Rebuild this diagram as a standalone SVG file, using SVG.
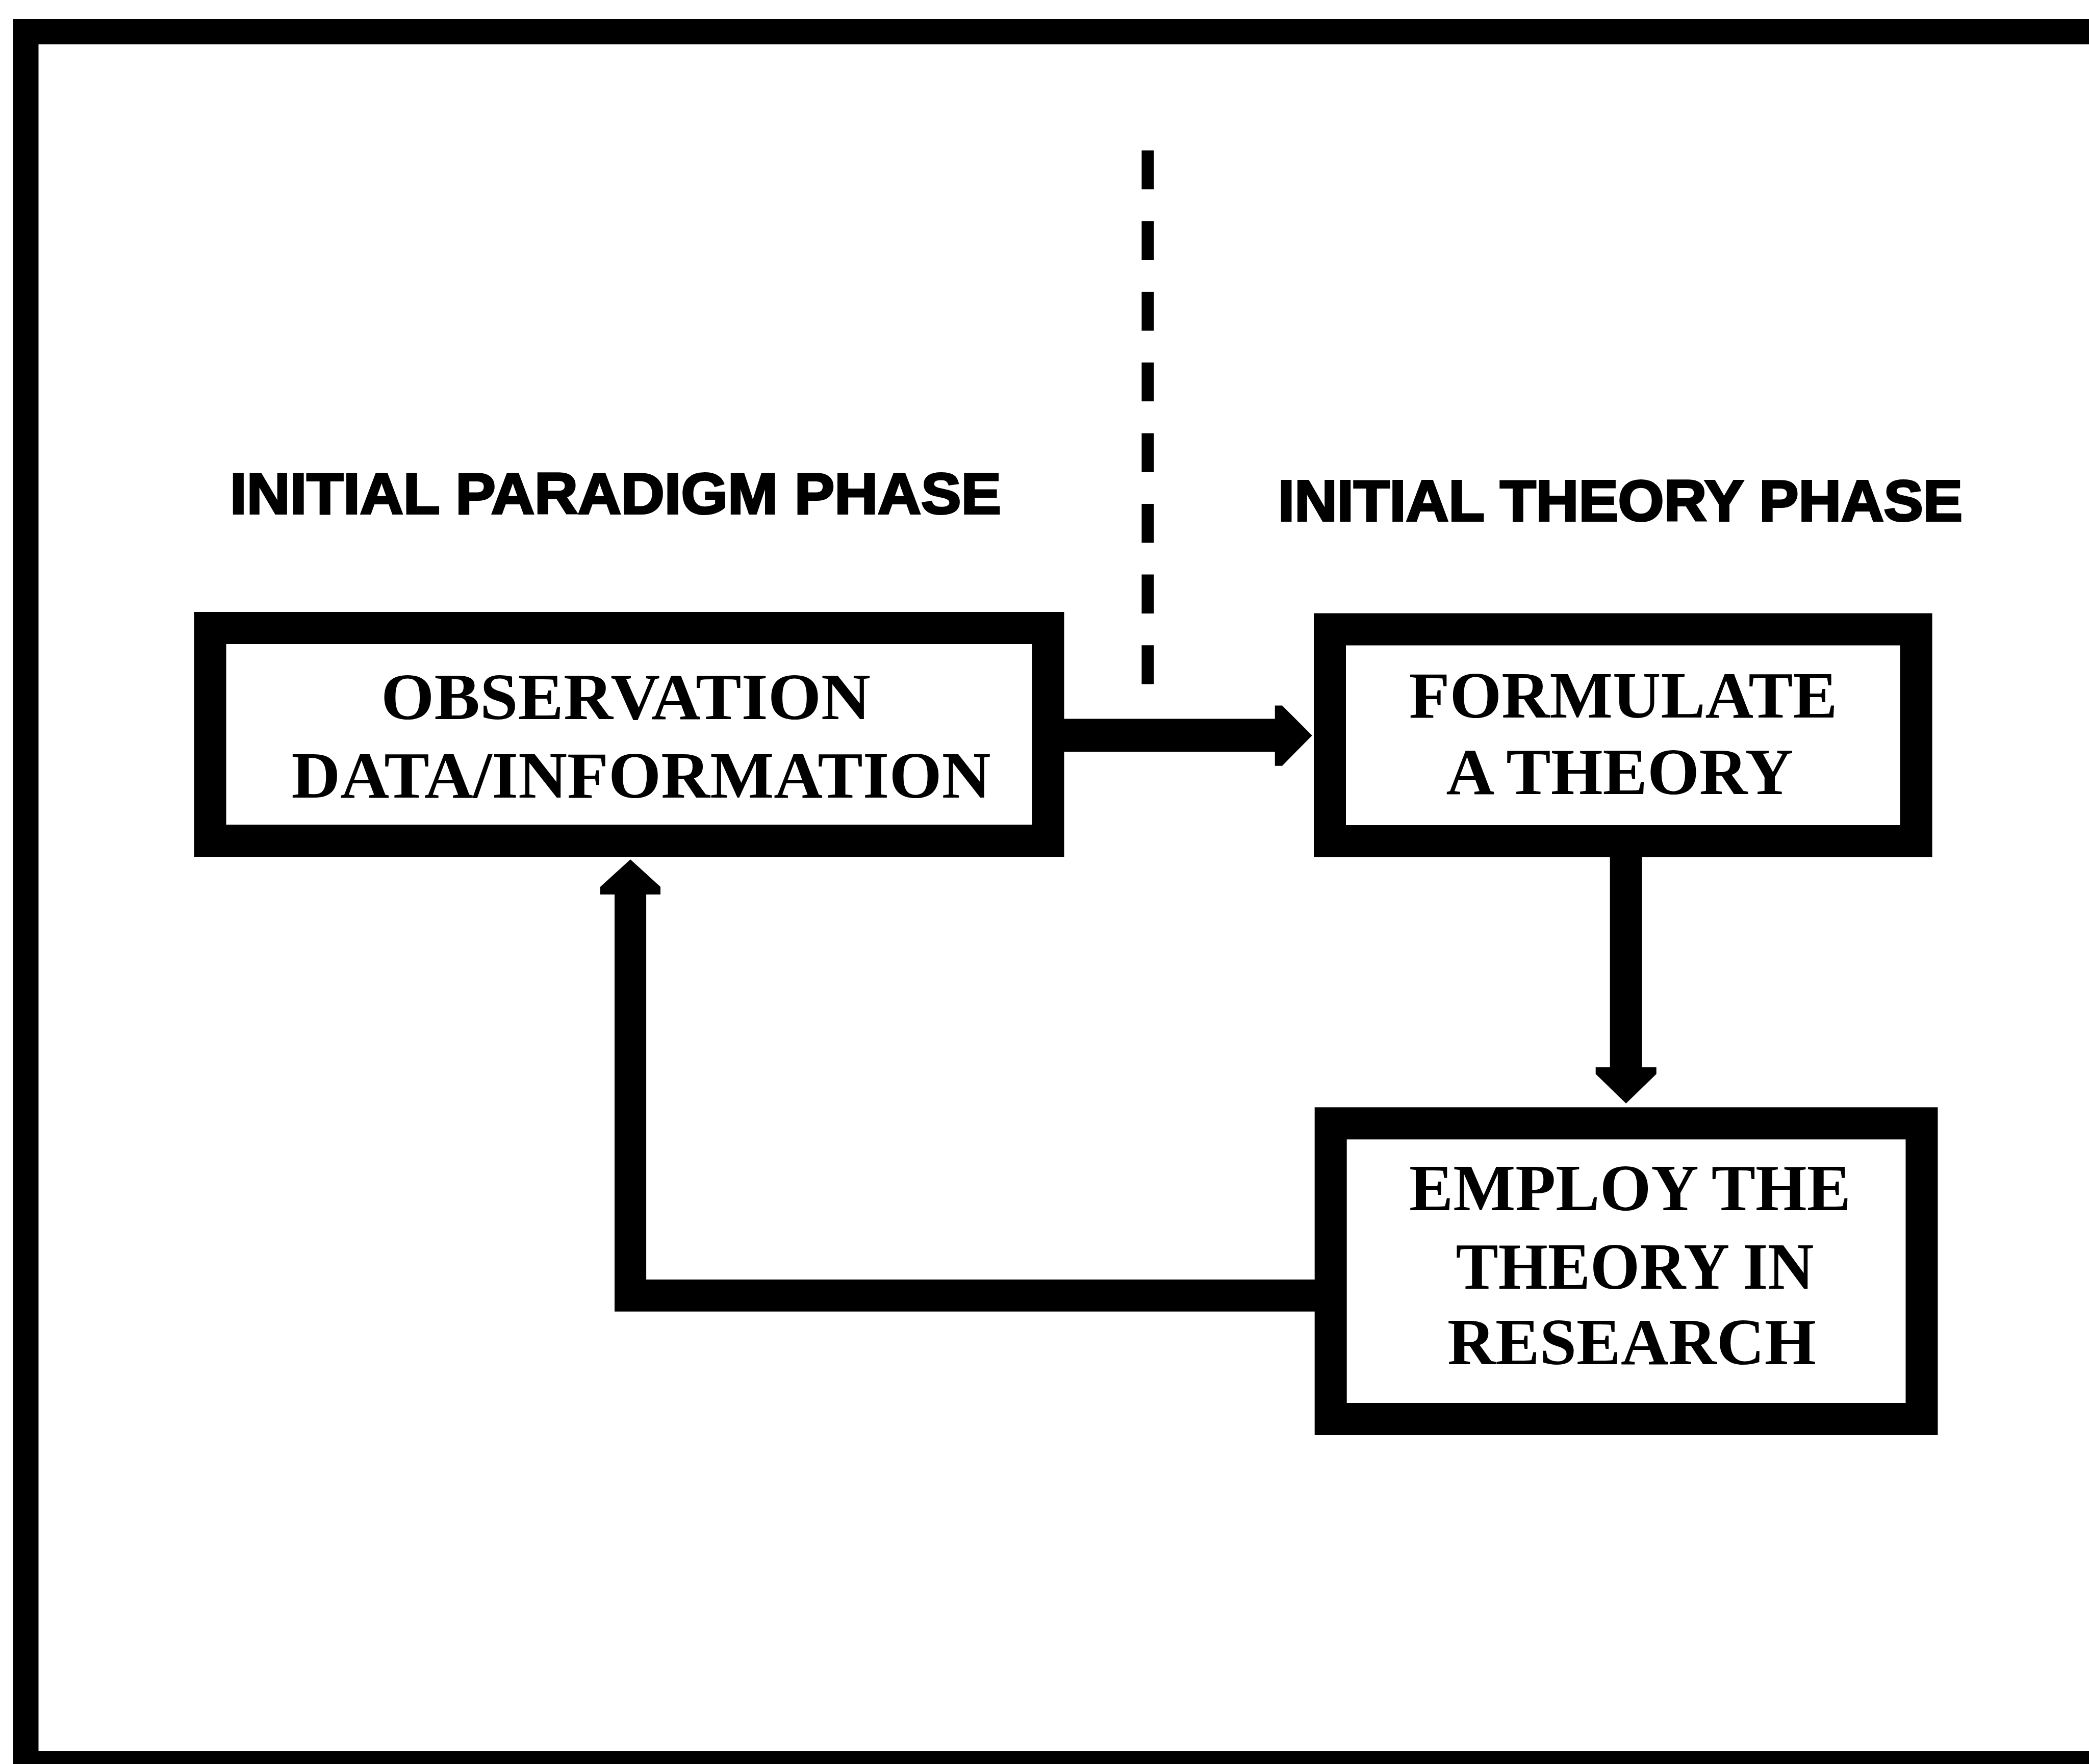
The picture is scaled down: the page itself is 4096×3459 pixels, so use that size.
<svg xmlns="http://www.w3.org/2000/svg" width="4096" height="3459" viewBox="0 0 4096 3459">
  <style>
    .frame { fill: none; stroke: #000; stroke-width: 50; }
    .box { fill: #fff; stroke: #000; stroke-width: 63; }
    .label { font-family: "Liberation Serif", "Times New Roman", serif; font-weight: bold; font-size: 130px; fill: #000; text-anchor: middle; }
    .phase { font-family: "Liberation Sans", Arial, sans-serif; font-weight: bold; font-size: 114px; fill: #000; stroke: #000; stroke-width: 4; }
    .arrow { fill: #000; stroke: none; }
    .divider { fill: none; stroke: #000; stroke-width: 24; stroke-dasharray: 76.3 62.3; }
  </style>
  <rect width="4096" height="3459" fill="#fff"/>

  <!-- outer frame (right and bottom edges run off the page) -->
  <rect class="frame" x="50.5" y="62" width="4100" height="3397"/>

  <!-- phase divider -->
  <path class="divider" d="M2250.5,295 V1341.5"/>

  <!-- phase headings -->
  <g id="phase-labels">
    <text class="phase" x="451" y="1007" textLength="1512" lengthAdjust="spacingAndGlyphs">INITIAL PARADIGM PHASE</text>
    <text class="phase" x="2506" y="1021" textLength="1342" lengthAdjust="spacingAndGlyphs">INITIAL THEORY PHASE</text>
  </g>

  <g id="connectors">
    <!-- observation -> formulate -->
    <path class="arrow" d="M2080,1409.5 H2499.8 V1383.5 H2514 L2572.7,1442.2 L2514,1501.7 H2499.8 V1474 H2080 Z"/>
    <!-- formulate -> employ -->
    <path class="arrow" d="M3156.7,1675 V2092.5 H3128.7 V2105.9 L3188.2,2163.7 L3247.7,2105.9 V2092.5 H3219.6 V1675 Z"/>
    <!-- employ -> observation (feedback loop) -->
    <path class="arrow" d="M2584,2509 H1267.1 V1753.9 H1295 V1738.9 L1236,1685.2 L1177,1738.9 V1753.9 H1205 V2571.8 H2584 Z"/>
  </g>

  <g id="node-observation">
    <rect class="box" x="412" y="1231.5" width="1643" height="417"/>
    <text class="label" x="1227" y="1409.5" textLength="960" lengthAdjust="spacingAndGlyphs">OBSERVATION</text>
    <text class="label" x="1257" y="1563.7" textLength="1371" lengthAdjust="spacingAndGlyphs">DATA/INFORMATION</text>
  </g>

  <g id="node-formulate">
    <rect class="box" x="2607.5" y="1234" width="1149.6" height="415.5"/>
    <text class="label" x="3182.7" y="1407" textLength="840" lengthAdjust="spacingAndGlyphs">FORMULATE</text>
    <text class="label" x="3176" y="1557" textLength="681" lengthAdjust="spacingAndGlyphs">A THEORY</text>
  </g>

  <g id="node-employ">
    <rect class="box" x="2609.2" y="2202.8" width="1158.8" height="579.7"/>
    <text class="label" x="3196" y="2373.2" textLength="866" lengthAdjust="spacingAndGlyphs">EMPLOY THE</text>
    <text class="label" x="3205.4" y="2527.4" textLength="702" lengthAdjust="spacingAndGlyphs">THEORY IN</text>
    <text class="label" x="3199.5" y="2674.9" textLength="723" lengthAdjust="spacingAndGlyphs">RESEARCH</text>
  </g>
</svg>
